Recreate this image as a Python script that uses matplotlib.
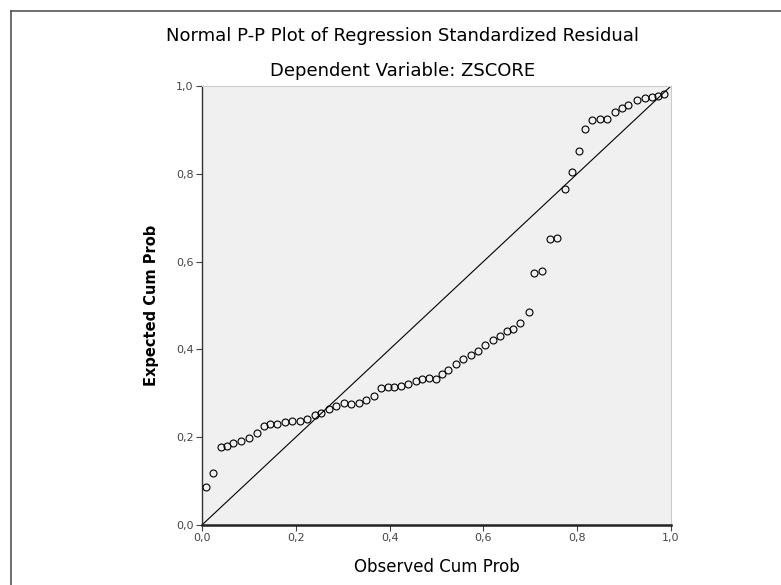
import matplotlib
matplotlib.use("Agg")
import matplotlib.pyplot as plt
from matplotlib.lines import Line2D

plt.rcParams['font.family'] = ['DejaVu Sans']

# observed vs expected cumulative probabilities
observed = [0.008, 0.024, 0.040, 0.053, 0.067, 0.084, 0.100, 0.117, 0.133, 0.146,
            0.161, 0.177, 0.193, 0.209, 0.225, 0.242, 0.254, 0.270, 0.286, 0.302,
            0.318, 0.334, 0.350, 0.366, 0.382, 0.396, 0.410, 0.424, 0.440, 0.456,
            0.470, 0.485, 0.498, 0.512, 0.525, 0.541, 0.557, 0.573, 0.589, 0.604,
            0.620, 0.636, 0.650, 0.663, 0.679, 0.697, 0.707, 0.724, 0.742, 0.758,
            0.774, 0.788, 0.803, 0.817, 0.832, 0.848, 0.864, 0.880, 0.896, 0.909,
            0.928, 0.944, 0.960, 0.973, 0.986]
expected = [0.087, 0.118, 0.177, 0.181, 0.187, 0.191, 0.198, 0.209, 0.226, 0.230,
            0.231, 0.234, 0.236, 0.238, 0.241, 0.250, 0.255, 0.264, 0.272, 0.277,
            0.275, 0.278, 0.285, 0.294, 0.311, 0.315, 0.315, 0.317, 0.321, 0.328,
            0.332, 0.334, 0.332, 0.345, 0.353, 0.366, 0.379, 0.387, 0.396, 0.409,
            0.421, 0.430, 0.443, 0.447, 0.460, 0.485, 0.574, 0.579, 0.651, 0.653,
            0.766, 0.804, 0.851, 0.902, 0.923, 0.925, 0.925, 0.940, 0.949, 0.957,
            0.968, 0.973, 0.974, 0.977, 0.981]
ref_line = [0.0, 1.0]

tick_vals = [0.0, 0.2, 0.4, 0.6, 0.8, 1.0]
tick_labels = ['0,0', '0,2', '0,4', '0,6', '0,8', '1,0']

fig = plt.figure(figsize=(7.81, 5.85), dpi=100)
ax = fig.add_axes([0.2586, 0.1026, 0.6005, 0.7504])
ax.set_facecolor('#f0f0f0')

ax.plot(ref_line, ref_line, color='black', lw=0.8, zorder=2)
ax.plot(observed, expected, 'o', mfc='none', mec='black', ms=5, mew=0.8,
        clip_on=False, zorder=3)

ax.set_xlim(0, 1)
ax.set_ylim(0, 1)
ax.set_xticks(tick_vals)
ax.set_xticklabels(tick_labels)
ax.set_yticks(tick_vals)
ax.set_yticklabels(tick_labels)
ax.tick_params(direction='out', length=4, width=0.8, labelsize=8,
               colors='#444444', pad=2)

ax.spines['left'].set_color('#333333')
ax.spines['left'].set_linewidth(1.0)
ax.spines['bottom'].set_color('#222222')
ax.spines['bottom'].set_linewidth(1.8)
ax.spines['top'].set_color('#cccccc')
ax.spines['right'].set_color('#cccccc')

ax.set_xlabel('Observed Cum Prob', fontsize=12, va='center')
ax.xaxis.set_label_coords(0.5, -0.096)
ax.set_ylabel('Expected Cum Prob', fontsize=10.5, fontweight='bold', va='center')
ax.yaxis.set_label_coords(-0.107, 0.5)

fig.text(0.515, 1 - 36 / 585, 'Normal P-P Plot of Regression Standardized Residual',
         ha='center', va='center', fontsize=13)
fig.text(0.515, 1 - 71 / 585, 'Dependent Variable: ZSCORE',
         ha='center', va='center', fontsize=13)

# partial outer frame (top and left edges)
fig.add_artist(Line2D([11 / 781, 1.0], [1 - 11 / 585, 1 - 11 / 585],
                      transform=fig.transFigure, color='#555555', lw=1.2))
fig.add_artist(Line2D([11 / 781, 11 / 781], [0.0, 1 - 11 / 585],
                      transform=fig.transFigure, color='#555555', lw=1.2))

fig.savefig('out.png', dpi=100)
